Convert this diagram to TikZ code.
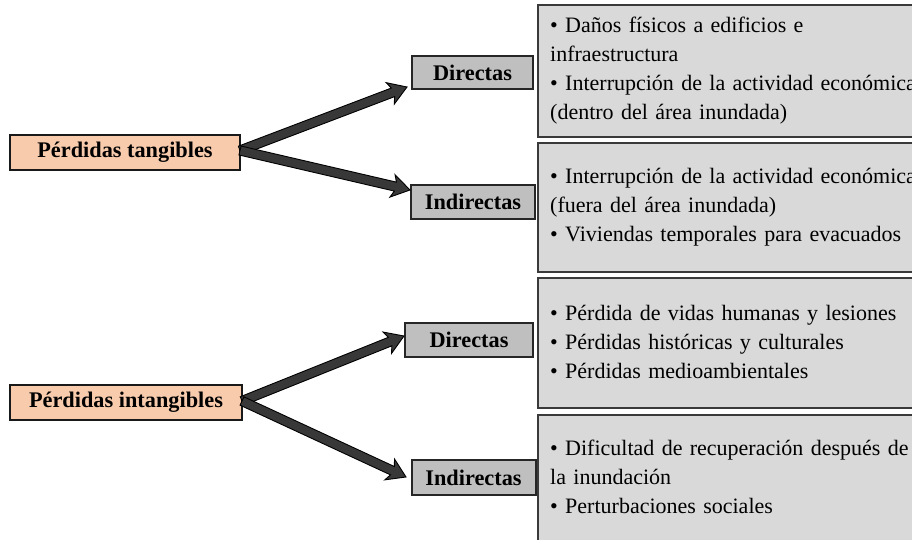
\documentclass[tikz,border=0pt]{standalone}
\usepackage{fontspec}
\setmainfont{Liberation Serif}
\usetikzlibrary{calc}
\definecolor{peach}{HTML}{F8CBAD}
\definecolor{lblgray}{HTML}{BFBFBF}
\definecolor{boxgray}{HTML}{D9D9D9}
\definecolor{boxline}{HTML}{3A3A3A}
\definecolor{arrowfill}{HTML}{383838}
\tikzset{
  mainlbl/.style={draw=black!90, line width=1.6pt, fill=peach, inner sep=0pt, outer sep=0pt,
    font=\fontsize{22.3}{26}\selectfont\bfseries},
  sublbl/.style={draw=black!85, line width=2pt, fill=lblgray, inner sep=0pt, outer sep=0pt,
    font=\fontsize{22.3}{26}\selectfont\bfseries},
  tbox/.style={draw=boxline, line width=2.8pt, fill=boxgray, inner sep=0pt, outer sep=0pt,
    anchor=north west, minimum width=420pt},
  btxt/.style={anchor=base west, inner sep=0pt, text width=400pt, align=left,
    font=\fontsize{22}{29}\selectfont},
  blk/.style={fill=arrowfill, draw=black, line width=0.9pt, line join=miter}
}
\newcommand\blockarrow[2]{%
  \coordinate (bjn) at ($(#2)!15pt!(#1)$);
  \coordinate (bwg) at ($(#2)!18pt!(#1)$);
  \path[blk] ($(#1)!4.6pt!90:(#2)$) -- ($(bjn)!4.6pt!90:(#2)$) -- ($(bwg)!11.5pt!90:(#2)$)
    -- (#2) -- ($(bwg)!11.5pt!-90:(#2)$) -- ($(bjn)!4.6pt!-90:(#2)$) -- ($(#1)!4.6pt!-90:(#2)$) -- cycle;
}
\begin{document}
\begin{tikzpicture}[x=1pt,y=-1pt]
\useasboundingbox (0,0) rectangle (912,540);
\clip (0,0) rectangle (912,540);

% left labels
\node[mainlbl, minimum width=230pt, minimum height=35pt] (tang) at (125,152.5) {Pérdidas tangibles};
\node[mainlbl, minimum width=232pt, minimum height=35pt] (intang) at (126,402.5) {Pérdidas intangibles};

% sub labels
\node[sublbl, minimum width=121pt, minimum height=33pt] (d1) at (472.5,72.5) {Directas};
\node[sublbl, minimum width=124pt, minimum height=34pt] (i1) at (473,202) {Indirectas};
\node[sublbl, minimum width=128pt, minimum height=34pt] (d2) at (469,340) {Directas};
\node[sublbl, minimum width=124pt, minimum height=35pt] (i2) at (473.5,477.5) {Indirectas};

% text boxes
\node[tbox, minimum height=132pt] (b1) at (538,5) {};
\node[tbox, minimum height=129pt] (b2) at (538,143) {};
\node[tbox, minimum height=130pt] (b3) at (538,278) {};
\node[tbox, minimum height=150pt] (b4) at (538,415) {};

\node[btxt] (t1) at (550,33) {• Daños físicos a edificios e\\infraestructura\\• Interrupción de la actividad económica\\(dentro del área inundada)};
\node[btxt] (t2) at (550,183) {• Interrupción de la actividad económica\\(fuera del área inundada)\\• Viviendas temporales para evacuados};
\node[btxt] (t3) at (550,320) {• Pérdida de vidas humanas y lesiones\\• Pérdidas históricas y culturales\\• Pérdidas medioambientales};
\node[btxt] (t4) at (550,455) {• Dificultad de recuperación después de\\la inundación\\• Perturbaciones sociales};

% arrow tips
\coordinate (tip1) at (407,87);
\coordinate (tip2) at (410,190);
\coordinate (tip3) at (404,336);
\coordinate (tip4) at (406,477);
\coordinate (st1) at ($(tang.east)+(0,-2)$);
\coordinate (st2) at ($(intang.east)+(0,-1.5)$);

\blockarrow{st1}{tip1}
\blockarrow{st1}{tip2}
\blockarrow{st2}{tip3}
\blockarrow{st2}{tip4}
\end{tikzpicture}
\end{document}
